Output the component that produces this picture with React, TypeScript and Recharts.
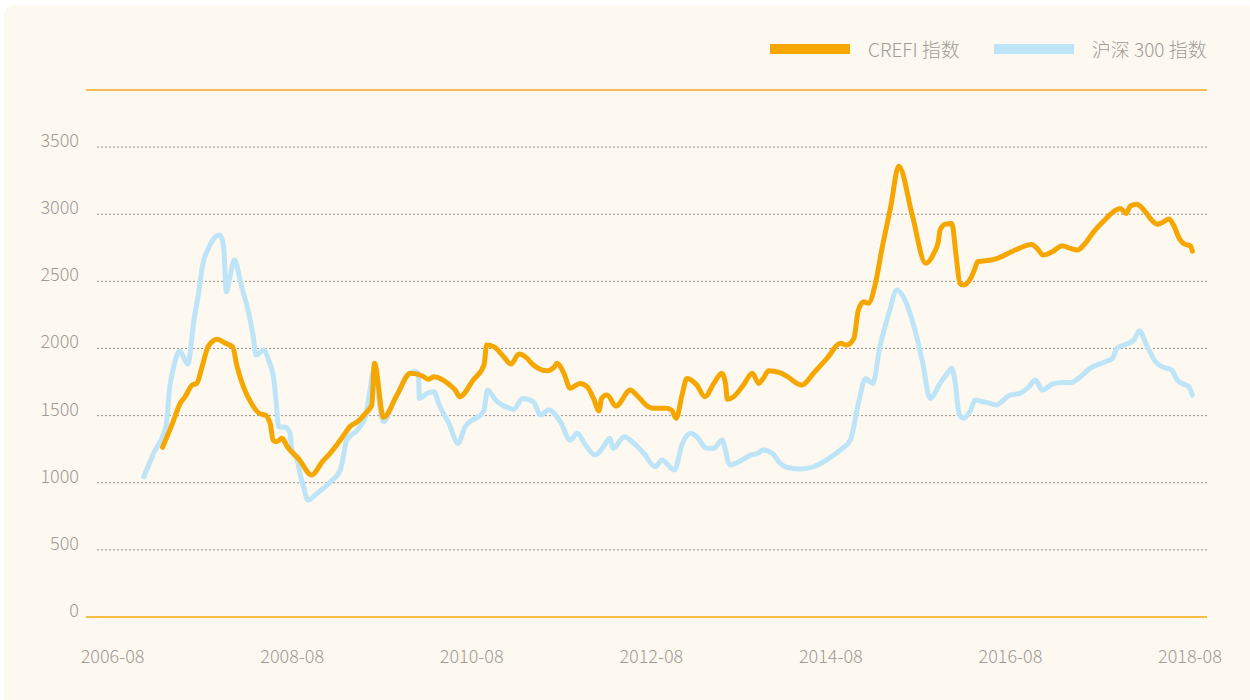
import React from 'react';
import { LineChart, Line, XAxis, YAxis, ReferenceLine } from 'recharts';

// ---- data (x = decimal year, y = index value) ----
const hs300Dates = [
  2006.93, 2007.04, 2007.18, 2007.22, 2007.26, 2007.33, 2007.42, 2007.49, 2007.54, 2007.59,
  2007.65, 2007.73, 2007.78, 2007.82, 2007.85, 2007.89, 2007.94, 2008.02, 2008.10, 2008.15,
  2008.18, 2008.27, 2008.32, 2008.38, 2008.41, 2008.43, 2008.51, 2008.56, 2008.58, 2008.64,
  2008.67, 2008.71, 2008.76, 2008.86, 2009.01, 2009.12, 2009.16, 2009.19, 2009.31, 2009.40,
  2009.45, 2009.49, 2009.60, 2009.71, 2009.86, 2009.95, 2009.99, 2010.00, 2010.09, 2010.16,
  2010.23, 2010.33, 2010.43, 2010.51, 2010.59, 2010.66, 2010.72, 2010.76, 2010.85, 2010.92,
  2011.01, 2011.05, 2011.15, 2011.27, 2011.35, 2011.44, 2011.57, 2011.68, 2011.76, 2011.85,
  2011.96, 2012.05, 2012.12, 2012.16, 2012.28, 2012.39, 2012.50, 2012.63, 2012.70, 2012.84,
  2012.93, 2013.02, 2013.09, 2013.20, 2013.28, 2013.37, 2013.46, 2013.56, 2013.69, 2013.77,
  2013.83, 2013.93, 2014.02, 2014.09, 2014.24, 2014.39, 2014.56, 2014.69, 2014.80, 2014.89,
  2014.97, 2015.05, 2015.13, 2015.23, 2015.32, 2015.39, 2015.51, 2015.60, 2015.69, 2015.80,
  2015.88, 2015.93, 2015.97, 2016.01, 2016.06, 2016.14, 2016.19, 2016.28, 2016.36, 2016.42,
  2016.58, 2016.69, 2016.79, 2016.86, 2016.94, 2017.05, 2017.16, 2017.25, 2017.34, 2017.47,
  2017.64, 2017.72, 2017.77, 2017.88, 2017.96, 2018.02, 2018.10, 2018.20, 2018.27, 2018.38,
  2018.44, 2018.51, 2018.57, 2018.61,
];
const hs300Values = [
  1045, 1219, 1430, 1715, 1852, 1981, 1884, 2212, 2410, 2634,
  2745, 2832, 2845, 2758, 2422, 2534, 2658, 2460, 2262, 2087,
  1951, 1988, 1914, 1765, 1566, 1417, 1413, 1368, 1244, 1169,
  1070, 970, 871, 921, 1008, 1095, 1219, 1318, 1393, 1492,
  1690, 1830, 1454, 1591, 1789, 1827, 1815, 1628, 1666, 1678,
  1566, 1442, 1293, 1417, 1467, 1492, 1541, 1690, 1616, 1579,
  1554, 1546, 1628, 1603, 1504, 1541, 1455, 1318, 1368, 1281,
  1206, 1268, 1331, 1256, 1343, 1293, 1219, 1119, 1169, 1095,
  1293, 1368, 1343, 1256, 1256, 1318, 1132, 1157, 1206, 1219,
  1244, 1219, 1144, 1115, 1102, 1119, 1181, 1244, 1318, 1591,
  1777, 1740, 2013, 2262, 2435, 2385, 2162, 1914, 1628, 1740,
  1814, 1852, 1740, 1517, 1480, 1541, 1616, 1603, 1591, 1579,
  1653, 1666, 1715, 1765, 1690, 1735, 1747, 1745, 1777, 1852,
  1901, 1926, 2001, 2033, 2063, 2132, 2025, 1901, 1864, 1839,
  1765, 1735, 1715, 1653,
];

const crefiDates = [
  2007.14, 2007.25, 2007.34, 2007.39, 2007.47, 2007.52, 2007.58, 2007.65, 2007.75, 2007.84,
  2007.92, 2007.97, 2008.04, 2008.14, 2008.23, 2008.28, 2008.34, 2008.37, 2008.41, 2008.47,
  2008.53, 2008.66, 2008.80, 2008.92, 2009.01, 2009.08, 2009.16, 2009.23, 2009.31, 2009.40,
  2009.47, 2009.50, 2009.60, 2009.75, 2009.90, 2010.03, 2010.10, 2010.16, 2010.34, 2010.40,
  2010.45, 2010.60, 2010.72, 2010.75, 2010.83, 2010.94, 2011.02, 2011.11, 2011.18, 2011.27,
  2011.42, 2011.50, 2011.53, 2011.61, 2011.68, 2011.79, 2011.87, 2011.94, 2012.00, 2012.03,
  2012.09, 2012.19, 2012.35, 2012.42, 2012.54, 2012.61, 2012.74, 2012.81, 2012.86, 2012.93,
  2012.98, 2013.09, 2013.18, 2013.28, 2013.37, 2013.41, 2013.43, 2013.50, 2013.61, 2013.71,
  2013.78, 2013.83, 2013.89, 2014.02, 2014.10, 2014.26, 2014.39, 2014.54, 2014.69, 2014.76,
  2014.84, 2014.89, 2014.95, 2015.00, 2015.08, 2015.15, 2015.25, 2015.34, 2015.49, 2015.64,
  2015.73, 2015.78, 2015.80, 2015.86, 2015.93, 2015.98, 2016.02, 2016.06, 2016.14, 2016.19,
  2016.22, 2016.28, 2016.40, 2016.62, 2016.82, 2016.88, 2016.95, 2017.05, 2017.16, 2017.25,
  2017.33, 2017.40, 2017.51, 2017.64, 2017.73, 2017.81, 2017.87, 2017.92, 2017.99, 2018.07,
  2018.14, 2018.22, 2018.27, 2018.35, 2018.40, 2018.47, 2018.52, 2018.59, 2018.61,
];
const crefiValues = [
  1264, 1442, 1596, 1640, 1728, 1740, 1864, 2018, 2068, 2038,
  2013, 1864, 1715, 1579, 1512, 1506, 1437, 1318, 1306, 1331,
  1268, 1174, 1057, 1157, 1223, 1281, 1355, 1420, 1454, 1517,
  1579, 1889, 1487, 1653, 1815, 1797, 1770, 1790, 1728, 1690,
  1641, 1765, 1877, 2025, 2013, 1938, 1884, 1958, 1938, 1877,
  1834, 1859, 1889, 1815, 1703, 1740, 1715, 1628, 1536, 1628,
  1653, 1571, 1690, 1653, 1571, 1554, 1554, 1541, 1480, 1666,
  1777, 1728, 1641, 1740, 1815, 1740, 1621, 1641, 1728, 1815,
  1740, 1777, 1834, 1819, 1790, 1728, 1815, 1926, 2038, 2025,
  2075, 2286, 2348, 2336, 2485, 2733, 3055, 3358, 2993, 2634,
  2708, 2795, 2882, 2926, 2931, 2683, 2485, 2472, 2522, 2600,
  2648, 2651, 2663, 2728, 2775, 2745, 2696, 2720, 2765, 2745,
  2733, 2770, 2869, 2961, 3018, 3043, 3006, 3061, 3075, 3031,
  2969, 2926, 2936, 2964, 2919, 2812, 2778, 2763, 2725,
];

const seriesNames = ['CREFI 指数', '沪深 300 指数'];
const seriesColors = ['#f5a700', '#bee4f8'];

const yTicks = [0, 500, 1000, 1500, 2000, 2500, 3000, 3500];
const yGridValues = [500, 1000, 1500, 2000, 2500, 3000, 3500];
const Y_MAX = 3925;

const xTickValues = [2006.5833, 2008.5833, 2010.5833, 2012.5833, 2014.5833, 2016.5833, 2018.5833];
const xTickLabels = ['2006-08', '2008-08', '2010-08', '2012-08', '2014-08', '2016-08', '2018-08'];
const X_DOMAIN: [number, number] = [2006.287, 2018.773];

const crefiData = crefiDates.map((t, i) => ({ t, v: crefiValues[i] }));
const hs300Data = hs300Dates.map((t, i) => ({ t, v: hs300Values[i] }));

const FONT = '"Noto Sans CJK SC", "Noto Sans", sans-serif';
const TEXT_COLOR = '#a09b96';

const XTick = (props: any) => {
  const { x, y, payload } = props;
  const idx = xTickValues.indexOf(payload.value);
  return (
    <text x={x} y={y + 38} textAnchor="middle" dominantBaseline="central"
      fill={TEXT_COLOR} fontSize={18} fontWeight={300} fontFamily={FONT}>
      {idx >= 0 ? xTickLabels[idx] : ''}
    </text>
  );
};

const YTick = (props: any) => {
  const { x, y, payload } = props;
  return (
    <text x={x} y={y - 8} textAnchor="end" dominantBaseline="central"
      fill={TEXT_COLOR} fontSize={18} fontWeight={300} fontFamily={FONT}>
      {payload.value}
    </text>
  );
};

const GridLine = (props: any) => {
  const { x1, x2, y1 } = props;
  return <line x1={x1 + 11} x2={x2} y1={y1} y2={y1} stroke="#959089" strokeWidth={1} strokeDasharray="2 2" />;
};

const ChartLegend = () => (
  <div style={{ position: 'absolute', left: 770, top: 37, display: 'flex', alignItems: 'center', fontFamily: FONT, fontWeight: 300, fontSize: 19, color: TEXT_COLOR }}>
    {seriesNames.map((name, i) => (
      <div key={name} style={{ display: 'flex', alignItems: 'center', marginRight: i === 0 ? 34 : 0 }}>
        <div style={{ width: 80, height: 10, background: seriesColors[i], marginRight: 18 }} />
        <span style={{ lineHeight: '24px', whiteSpace: 'nowrap' }}>{name}</span>
      </div>
    ))}
  </div>
);

export default function App() {
  return (
    <div style={{ position: 'absolute', left: 0, top: 0, width: 1250, height: 700, background: '#ffffff', overflow: 'hidden' }}>
      <div style={{ position: 'absolute', left: 4, top: 5, width: 1250, height: 710, background: '#fdf8f0', borderRadius: 10 }} />
      <div style={{ position: 'absolute', left: 0, top: 0 }}>
        <LineChart width={1250} height={700} margin={{ top: 90, right: 43, bottom: 43, left: 6 }}>
          <XAxis
            dataKey="t"
            type="number"
            domain={X_DOMAIN}
            ticks={xTickValues}
            allowDataOverflow
            height={40}
            tickLine={false}
            tickSize={0}
            tickMargin={0}
            axisLine={{ stroke: '#f8bd45', strokeWidth: 2 }}
            tick={<XTick />}
            interval={0}
          />
          <YAxis
            type="number"
            domain={[0, Y_MAX]}
            ticks={yTicks}
            width={80}
            axisLine={false}
            tickLine={false}
            tickSize={0}
            tickMargin={7}
            tick={<YTick />}
            interval={0}
          />
          {yGridValues.map((v) => (
            <ReferenceLine key={v} y={v} shape={<GridLine />} />
          ))}
          <ReferenceLine y={Y_MAX} stroke="#f5a823" strokeWidth={1.5} />
          <Line data={hs300Data} dataKey="v" name={seriesNames[1]} type="monotone" stroke={seriesColors[1]}
            strokeWidth={5} dot={false} activeDot={false} isAnimationActive={false} strokeLinejoin="round" strokeLinecap="round" />
          <Line data={crefiData} dataKey="v" name={seriesNames[0]} type="monotone" stroke={seriesColors[0]}
            strokeWidth={5} dot={false} activeDot={false} isAnimationActive={false} strokeLinejoin="round" strokeLinecap="round" />
        </LineChart>
      </div>
      <ChartLegend />
    </div>
  );
}
